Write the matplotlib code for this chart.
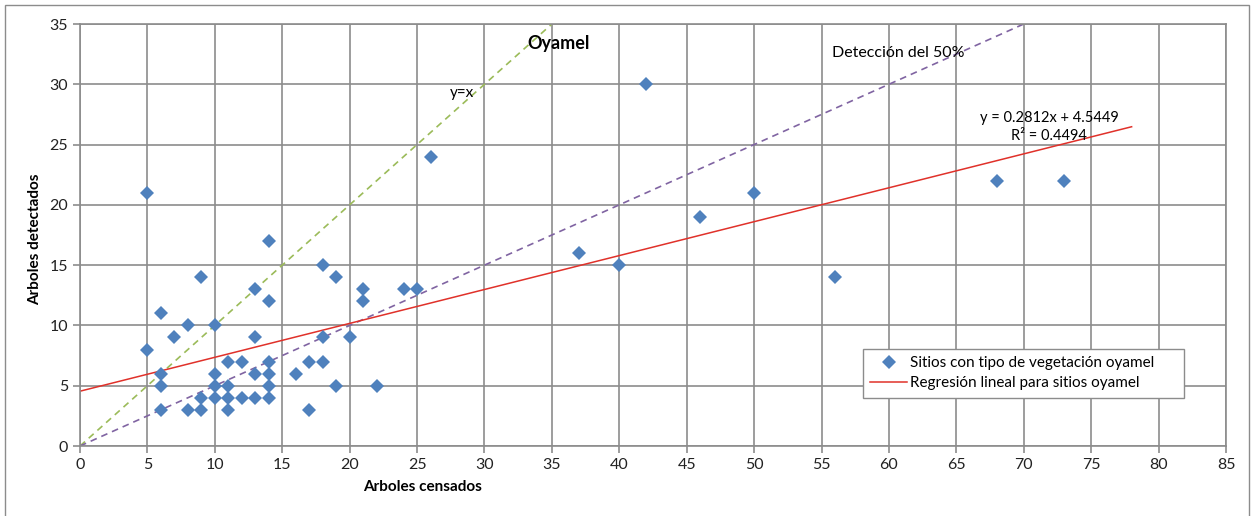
import matplotlib
matplotlib.use("Agg")
import matplotlib.pyplot as plt
from matplotlib.patches import Rectangle
import numpy as np

# arboles censados / detectados por sitio (oyamel)
censados = [5, 5, 6, 6, 6, 6, 7, 8, 8, 9, 9, 9, 10, 10, 10, 10,
            11, 11, 11, 11, 12, 12, 13, 13, 13, 13, 14, 14, 14, 14, 14, 14,
            16, 17, 17, 18, 18, 18, 19, 19, 20, 21, 21, 22, 24, 25, 26,
            37, 40, 42, 46, 50, 56, 68, 73]
detectados = [21, 8, 11, 6, 5, 3, 9, 10, 3, 14, 4, 3, 10, 6, 5, 4,
              7, 5, 4, 3, 7, 4, 13, 9, 6, 4, 17, 12, 7, 6, 5, 4,
              6, 7, 3, 15, 9, 7, 14, 5, 9, 13, 12, 5, 13, 13, 24,
              16, 15, 30, 19, 21, 14, 22, 22]

slope = 0.2812
intercept = 4.5449
r2 = 0.4494
reg_x = [0, 78]
ident_x = [0, 35]
half_x = [0, 70]

plt.rcParams['font.family'] = ['Lato', 'DejaVu Sans']

fig = plt.figure(figsize=(12.51, 5.16), dpi=100)
ax = fig.add_axes([80 / 1251, 70 / 516, 1146 / 1251, 422 / 516])

grid_c = '#8c8c8c'
ax.set_xlim(0, 85)
ax.set_ylim(0, 35)
ax.set_xticks(np.arange(0, 86, 5))
ax.set_yticks(np.arange(0, 36, 5))
ax.grid(True, color=grid_c, linewidth=1.2)
ax.set_axisbelow(True)
for s in ax.spines.values():
    s.set_color(grid_c)
    s.set_linewidth(1.2)
ax.tick_params(colors=grid_c, labelcolor='#222222', labelsize=11.5, length=5, width=1.2)

# lineas de referencia
ax.plot(ident_x, ident_x, color='#9BBB59', linestyle=(0, (4, 3)), linewidth=1.2)
ax.plot(half_x, [v * 0.5 for v in half_x], color='#8064A2', linestyle=(0, (4, 3)), linewidth=1.2)

ax.plot(censados, detectados, linestyle='none', marker='D', markersize=7.2,
        color='#4F81BD', markeredgewidth=0, label='Sitios con tipo de vegetación oyamel',
        zorder=3)
reg_y = [slope * v + intercept for v in reg_x]
ax.plot(reg_x, reg_y, color='#E0312A', linewidth=1.1, label='Regresión lineal para sitios oyamel')

ax.text(35.5, 33.4, 'Oyamel', fontsize=13, fontweight='bold', ha='center', va='center')
ax.text(28.3, 29.3, 'y=x', fontsize=11, ha='center', va='center')
ax.text(55.8, 32.6, 'Detección del 50%', fontsize=11.5, ha='left', va='center')
ax.text(71.9, 27.2, 'y = 0.2812x + 4.5449', fontsize=10.5, ha='center', va='center')
ax.text(71.9, 25.7, 'R² = %.4f' % r2, fontsize=10.5, ha='center', va='center')

ax.set_xlabel('Arboles censados', fontsize=11, fontweight='bold')
ax.xaxis.set_label_coords((423 - 80) / 1146, -0.08)
ax.set_ylabel('Arboles detectados', fontsize=11, fontweight='bold')
ax.yaxis.set_label_coords(-0.033, 0.49)

leg = ax.legend(loc='lower left', bbox_to_anchor=(0.683, 0.114, 0.28, 0.13),
                mode='expand', fontsize=11, frameon=True, fancybox=False,
                borderaxespad=0, borderpad=0.5, handlelength=2.4,
                handletextpad=0.2, labelspacing=0.4)
leg.get_frame().set_edgecolor('#8c8c8c')
leg.get_frame().set_linewidth(1.0)
leg.get_frame().set_alpha(1)

# borde del grafico
fig.patches.append(Rectangle((5 / 1251, -2 / 516), 1244 / 1251, 513 / 516,
                             transform=fig.transFigure, fill=False,
                             edgecolor='#8c8c8c', linewidth=1))

fig.savefig('out.png', dpi=100)
